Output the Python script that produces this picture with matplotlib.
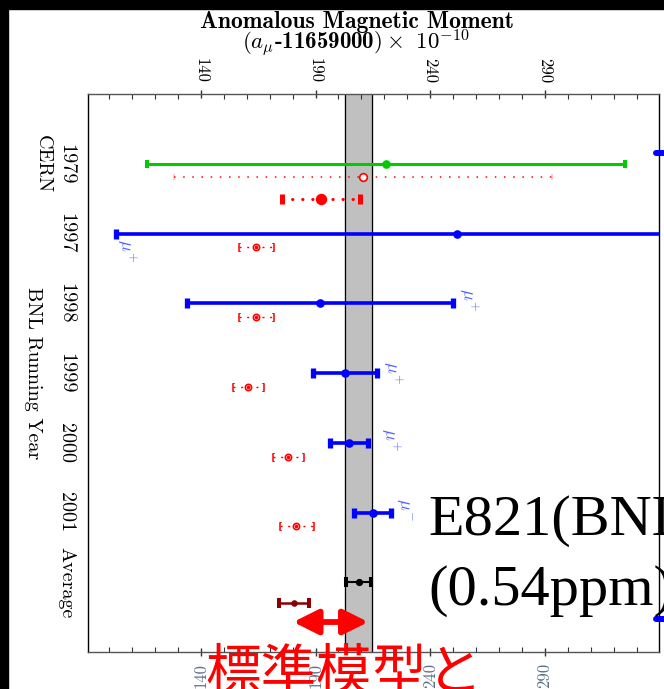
import matplotlib
matplotlib.use("Agg")
import matplotlib.pyplot as plt
from matplotlib.patches import Rectangle, FancyArrowPatch
from matplotlib.ticker import FixedLocator, MultipleLocator

plt.rcParams['mathtext.fontset'] = 'cm'

# running-year rows (vertical axis is inverted, one unit per row)
year_labels = ["1979", "1997", "1998", "1999", "2000", "2001", "Average"]
year_rows = [0, 1, 2, 3, 4, 5, 6]

# CERN 1979 measurement
cern_row = 0.0
cern_val = 220.7
cern_err = 104.2

# theory values of the CERN era (dotted red)
cern_theory_rows = [0.19, 0.50]
cern_theory_vals = [210.8, 192.5]
cern_theory_errs = [82.3, 16.9]

# BNL running years
bnl_rows = [1, 2, 3, 4, 5]
bnl_vals = [251.8, 191.9, 202.8, 204.7, 214.9]
bnl_errs = [148.9, 58.0, 14.1, 8.2, 8.0]
bnl_charge = ["+", "+", "+", "+", "-"]
bnl_label_x = [107.5, 256.5, 223.5, 222.5, 228.5]
bnl_label_rows = [1.24, 1.95, 2.99, 3.96, 4.96]

# theory at each BNL year (small red markers)
th_rows = [1.2, 2.2, 3.2, 4.2, 5.2]
th_vals = [164.0, 164.0, 160.6, 178.1, 181.7]
th_errs = [7.5, 7.5, 6.4, 6.5, 7.3]

# world average and standard model
avg_row, avg_val, avg_err = 6.0, 208.9, 5.4
sm_row, sm_val, sm_err = 6.3, 180.5, 6.5
band = [203.0, 214.7]
arrow_row, arrow_x = 6.57, [180.3, 213.0]
edge_rows, edge_x = [-0.15, 6.53], [338.4, 345.0]

major_ticks = [140, 190, 240, 290]

W, H = 664, 689
fig = plt.figure(figsize=(W / 100, H / 100), dpi=100)
ax = fig.add_axes([88 / W, 1 - 652 / H, 571 / W, 558 / H])


def bar(y, val, err, color, lw, cap_w, cap_h, ms, ls='-', mfc=None, z=3,
        caps=('|', '|'), **kw):
    lo, hi = val - err, val + err
    ax.plot([lo, hi], [y, y], color=color, lw=lw, ls=ls, zorder=z, **kw)
    ax.plot([lo], [y], ls='none', marker=caps[0], ms=cap_h, mew=cap_w,
            color=color, zorder=z)
    ax.plot([hi], [y], ls='none', marker=caps[1], ms=cap_h, mew=cap_w,
            color=color, zorder=z)
    ax.plot([val], [y], ls='none', marker='o', ms=ms, color=color,
            mfc=mfc if mfc else color, mew=1.2, zorder=z + 1)


# standard-model band
ax.axvspan(band[0], band[1], color='#c0c0c0', zorder=1)
for b in band:
    ax.axvline(b, color='black', lw=0.9, zorder=2)

bar(cern_row, cern_val, cern_err, '#00cc00', 2.2, 2.9, 6.0, 5)
bar(cern_theory_rows[0], cern_theory_vals[0], cern_theory_errs[0], 'red',
    1.1, 0.3, 5.0, 5.5, ls=(0, (1, 5)), mfc='white', caps=('$[$', '$]$'))
bar(cern_theory_rows[1], cern_theory_vals[1], cern_theory_errs[1], 'red',
    2.2, 3.6, 6.5, 7, ls=(0, (0.1, 3.2)), dash_capstyle='round')

for y, v, e in zip(bnl_rows, bnl_vals, bnl_errs):
    bar(y, v, e, '#0000ff', 2.6, 3.8, 7.0, 5)

for x, y, c in zip(bnl_label_x, bnl_label_rows, bnl_charge):
    ax.text(x, y, r'$\mu^{%s}$' % c, color='#5566ff', fontsize=13,
            rotation=-90, ha='center', va='center', zorder=5)

for y, v, e in zip(th_rows, th_vals, th_errs):
    bar(y, v, e, 'red', 1.0, 0.4, 5.5, 4.5, ls=(0, (1.5, 4)), mfc='white',
        z=4, caps=('$[$', '$]$'))
    ax.plot([v], [y], ls='none', marker='o', ms=1.6, color='red', zorder=6)

bar(avg_row, avg_val, avg_err, 'black', 1.5, 2.9, 6.5, 4)
bar(sm_row, sm_val, sm_err, '#8b0000', 1.8, 2.9, 6.5, 3.5)

arr = FancyArrowPatch((arrow_x[0], arrow_row), (arrow_x[1], arrow_row),
                      arrowstyle='<|-|>,head_length=15,head_width=7.5',
                      mutation_scale=1, lw=4.2, color='red',
                      shrinkA=0, shrinkB=0, zorder=7)
ax.add_patch(arr)

for y in edge_rows:
    ax.plot(edge_x, [y, y], color='#0000ff', lw=4.3, solid_capstyle='round',
            clip_on=False, zorder=8)

ax.set_xlim(90.85, 339.7)
ax.set_ylim(7.0, -1.0)
ax.set_yticks([])
ax.xaxis.set_major_locator(FixedLocator(major_ticks))
ax.xaxis.set_minor_locator(MultipleLocator(10))
ax.tick_params(axis='x', which='major', direction='inout', length=6, width=1,
               top=True, bottom=True, labeltop=True, labelbottom=True,
               color='#333333', labelsize=12, pad=5)
ax.tick_params(axis='x', which='minor', direction='in', length=3.3, width=0.8,
               top=True, bottom=True, color='#333333')
for t in ax.xaxis.get_major_ticks():
    t.label2.set_rotation(-90)
    t.label2.set_fontfamily('cmr10')
    t.label1.set_rotation(90)
    t.label1.set_fontfamily('cmr10')
    t.label1.set_color('#5d6f8a')
for s in ['top', 'bottom']:
    ax.spines[s].set_color('#555555')
for s in ax.spines.values():
    s.set_linewidth(1.0)

# row labels
lab_tr = ax.get_yaxis_transform()
for y, lab in zip(year_rows, year_labels):
    ax.text(-0.0385, y, lab, transform=lab_tr, rotation=-90, ha='center',
            va='center', family='cmr10', fontsize=14.5)
ax.text(-0.0788, 0, "CERN", transform=lab_tr, rotation=-90, ha='center',
        va='center', family='cmr10', fontsize=14.5)
ax.text(-0.0963, 3.0, "BNL Running Year", transform=lab_tr, rotation=-90,
        ha='center', va='center', family='cmr10', fontsize=14.5)

# title
fig.text(357 / W, 1 - 28 / H, "Anomalous Magnetic Moment", ha='center',
         va='baseline', family='cmb10', fontsize=17)
fig.text(356 / W, 1 - 48.5 / H, r"$(a_\mu$-11659000$)\times$ $10^{-10}$",
         ha='center', va='baseline', family='cmb10', fontsize=16.5)

# slide overlays
fig.text(428 / W, 1 - 535 / H, "E821(BNL)", ha='left', va='baseline',
         family='Liberation Serif', fontsize=42)
fig.text(428 / W, 1 - 605 / H, "(0.54ppm)", ha='left', va='baseline',
         family='Liberation Serif', fontsize=42)
fig.text(205 / W, 1 - 690 / H, "標準模型と", ha='left', va='baseline',
         family=['Noto Sans CJK JP', 'DejaVu Sans'], fontsize=40, color='red')

# black slide border
fig.patches.append(Rectangle((0, 1 - 9 / H), 1, 9 / H, transform=fig.transFigure,
                             color='black', zorder=10))
fig.patches.append(Rectangle((0, 0), 8 / W, 1, transform=fig.transFigure,
                             color='black', zorder=10))

fig.savefig("out.png", dpi=100)
